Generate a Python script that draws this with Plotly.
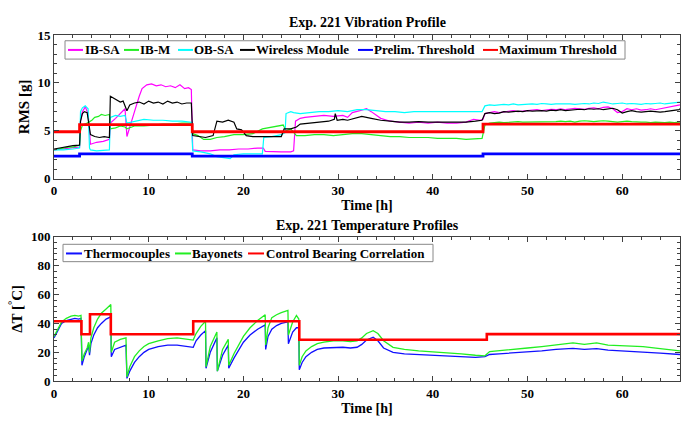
import plotly.graph_objects as go

# ---------------- data: vibration (top) ----------------
# shared dense time grid for the last segment (after the 45.3 h step)
tail_t = [45.5, 46.0, 46.5, 47.0, 47.5, 48.0, 48.5, 49.0, 49.5, 50.0, 50.5, 51.0, 51.5, 52.0, 52.5, 53.0, 53.5, 54.0,
          54.5, 55.0, 55.5, 56.0, 56.5, 57.0, 57.5, 58.0, 58.5, 59.0, 59.5, 60.0, 60.5, 61.0, 61.5, 62.0, 62.5, 63.0,
          63.5, 64.0, 64.5, 65.0, 65.5, 66.0, 66.1]

ibsa_t = [0, 1, 2, 2.7, 2.8, 3.0, 3.3, 3.6, 3.75, 3.85, 4.5, 5.2, 5.85, 5.95, 6.5, 7.0, 7.5, 7.7, 8.0, 8.5, 9.0, 9.3,
          9.8, 10.3, 10.8, 11.3, 11.8, 12.3, 12.8, 13.3, 13.8, 14.2, 14.5, 14.65, 15.5, 16.5, 17.5, 18.5, 19.5, 20.5,
          21.5, 22.1, 22.3, 23.0, 24.0, 25.0, 25.3, 25.5, 26.0, 26.5, 27.5, 28.5, 29.5, 30.5, 31.0, 31.5, 32.3, 33.0,
          33.5, 34.5, 35.5, 36.5, 37.5, 38.5, 39.5, 40.5, 41.5, 42.5, 43.5, 44.3, 45.0, 45.3]
ibsa_v = [3.0, 3.1, 3.2, 3.3, 6.0, 7.0, 7.5, 6.8, 5.0, 3.6, 3.8, 3.9, 4.1, 5.8, 6.3, 6.8, 7.3, 4.4, 5.3, 7.0, 8.6, 9.4,
          9.8, 9.9, 9.7, 9.8, 9.6, 9.7, 9.5, 9.8, 9.4, 9.5, 9.3, 3.0, 2.9, 2.9, 3.0, 3.0, 3.1, 3.1,
          3.2, 3.2, 2.85, 2.8, 2.8, 2.8, 2.9, 6.0, 6.3, 6.4, 6.5, 6.6, 6.5, 6.6, 6.4, 6.9, 7.1, 7.3,
          7.0, 6.3, 6.0, 5.9, 5.8, 5.9, 5.8, 5.9, 5.8, 5.8, 5.9, 6.2, 6.1, 6.2]
ibsa_tail = [6.8, 6.9, 7.0, 6.9, 6.95, 7.0, 7.1, 7.0, 7.05, 7.1, 7.1, 7.2, 7.1, 7.2, 7.25, 7.2, 7.3, 7.2, 7.3, 7.35,
             7.3, 7.25, 7.35, 7.4, 7.3, 7.45, 7.5, 7.3, 6.9, 7.0, 7.3, 7.2, 7.3, 7.15, 7.2, 7.3, 7.2, 7.3, 7.35, 7.5,
             7.6, 7.7, 7.7]

ibm_t = [0, 0.5, 1, 1.5, 2, 2.7, 2.8, 3.0, 3.5, 4.0, 4.3, 4.7, 5.0, 5.4, 5.85, 5.95, 6.5, 7.0, 7.5, 7.7, 8.5, 9.5,
         10.5, 11.5, 12.5, 13.5, 14.5, 14.65, 15.2, 15.8, 16.5, 17.2, 18.0, 19.0, 20.0, 21.0, 22.0, 22.5, 23.5,
         24.2, 24.5, 25.0, 25.6, 26.5, 27.5, 28.5, 29.5, 30.5, 31.5, 32.5, 33.5, 34.5, 35.5, 36.5, 37.5, 38.5,
         39.5, 40.5, 41.5, 42.5, 43.5, 44.5, 45.2]
ibm_v = [3.0, 3.1, 3.2, 3.3, 3.3, 3.5, 5.0, 5.6, 5.8, 6.1, 6.4, 6.5, 6.7, 6.6, 6.7, 5.2, 5.3, 5.5, 5.4, 5.2, 5.5, 5.5,
         5.6, 5.7, 5.7, 5.8, 5.8, 4.7, 4.5, 4.1, 4.1, 4.3, 4.4, 4.6, 4.6, 4.7, 5.2, 5.3, 5.5,
         5.6, 5.0, 5.2, 4.5, 4.5, 4.6, 4.6, 4.5, 4.6, 4.7, 4.7, 4.6, 4.5, 4.4, 4.4, 4.3, 4.3,
         4.3, 4.2, 4.2, 4.2, 4.1, 4.2, 4.2]
ibm_tail = [5.6, 5.8, 5.85, 5.9, 5.85, 5.9, 5.9, 5.95, 5.9, 5.9, 5.95, 5.9, 5.95, 5.9, 5.95, 5.95, 6.0, 5.95, 6.0,
            5.9, 6.0, 6.05, 6.0, 5.95, 6.0, 6.05, 6.0, 5.95, 5.9, 5.95, 6.0, 5.95, 5.9, 5.9, 5.9, 5.85, 5.9, 5.85,
            5.85, 5.9, 5.85, 5.9, 5.9]

obsa_t = [0, 1, 2, 2.7, 2.8, 3.0, 3.3, 3.6, 3.75, 3.85, 4.5, 5.2, 5.85, 5.95, 6.5, 7.0, 7.5, 7.7, 8.5, 9.0, 9.5,
          10.5, 11.5, 12.5, 13.5, 14.5, 14.65, 15.5, 16.5, 17.2, 18.0, 18.6, 19.0, 20.0, 21.0, 22.0, 22.15, 23.0,
          24.0, 24.4, 24.5, 25.0, 25.3, 26.0, 27.0, 28.0, 29.0, 30.0, 31.0, 32.0, 33.0, 34.0, 35.0, 36.0, 37.0,
          38.0, 39.0, 40.0, 41.0, 42.0, 43.0, 44.0, 45.2]
obsa_v = [3.0, 3.0, 3.1, 3.2, 7.0, 7.4, 7.6, 7.3, 3.2, 3.0, 2.9, 2.95, 3.0, 6.4, 6.6, 6.5, 6.6, 5.8, 6.0, 6.1, 6.2,
          6.1, 6.1, 6.0, 6.0, 5.9, 2.9, 2.8, 2.6, 2.3, 2.2, 2.1, 2.5, 2.6, 2.6, 2.6, 4.3, 4.4,
          4.6, 4.8, 6.8, 7.0, 6.9, 6.8, 6.9, 7.0, 7.0, 7.1, 7.0, 7.2, 7.2, 7.1, 7.0, 7.0, 6.9,
          7.0, 7.0, 6.95, 7.0, 7.0, 6.95, 7.0, 7.0]
obsa_tail = [7.6, 7.7, 7.65, 7.7, 7.75, 7.7, 7.8, 7.7, 7.75, 7.8, 7.8, 7.75, 7.85, 7.8, 7.75, 7.8, 7.8, 7.85, 7.8,
             7.75, 7.8, 7.85, 7.8, 7.9, 7.85, 8.0, 7.9, 7.8, 7.85, 7.9, 7.8, 7.85, 7.8, 7.75, 7.85, 7.8, 7.85, 7.9,
             7.8, 7.85, 7.9, 7.95, 8.0]

wm_t = [0, 0.5, 1, 1.5, 2.0, 2.7, 2.8, 3.0, 3.2, 3.5, 3.7, 3.85, 4.3, 4.8, 5.3, 5.85, 5.95, 6.3, 6.7, 7.0, 7.3, 7.7,
        8.0, 8.5, 9.0, 9.5, 10.0, 10.5, 11.0, 11.5, 12.0, 12.5, 13.0, 13.5, 14.0, 14.5, 14.65, 15.2, 16.0, 16.8,
        17.2, 17.8, 18.4, 19.0, 19.3, 19.8, 20.3, 21.0, 22.0, 23.0, 24.0, 24.3, 25.0, 25.6, 26.0, 27.0, 28.0,
        29.0, 29.6, 29.7, 29.9, 30.5, 31.0, 32.0, 32.5, 33.5, 34.5, 35.5, 36.5, 37.5, 38.5, 39.5, 40.5, 41.5,
        42.5, 43.5, 44.5, 45.2]
wm_v = [3.1, 3.2, 3.3, 3.4, 3.45, 3.5, 6.0, 6.8, 7.0, 6.9, 5.5, 4.6, 4.4, 4.3, 4.4, 4.3, 8.6, 8.4, 8.2, 8.0, 8.1, 7.1,
        7.7, 7.9, 8.0, 7.8, 8.1, 7.9, 8.0, 7.8, 8.1, 7.9, 8.0, 7.8, 7.9, 7.9, 4.5, 4.4, 4.3, 4.5,
        6.0, 5.9, 6.1, 5.9, 5.2, 5.1, 4.5, 4.4, 4.4, 4.4, 4.4, 5.2, 5.2, 5.4, 5.7, 5.8, 5.9,
        6.0, 6.2, 6.8, 6.1, 6.2, 6.1, 6.4, 6.5, 6.3, 6.1, 6.0, 5.9, 5.9, 5.95, 5.9, 5.9, 5.85,
        5.9, 5.9, 6.0, 6.1]
wm_tail = [6.8, 6.9, 6.8, 6.85, 7.0, 6.95, 7.0, 7.05, 7.0, 7.1, 7.05, 7.1, 7.1, 7.05, 7.15, 7.1, 7.2, 7.1, 7.15,
           7.2, 7.25, 7.2, 7.3, 7.25, 7.3, 7.2, 7.3, 7.35, 7.2, 6.85, 7.0, 7.1, 7.0, 6.95, 7.0, 7.05, 7.0, 6.95,
           7.0, 7.05, 7.1, 7.2, 7.3]

prelim_t = [0, 2.7, 14.6, 45.3, 66.1]
prelim_v = [2.35, 2.6, 2.35, 2.6, 2.6]
maxthr_t = [0, 2.7, 14.6, 45.3, 66.1]
maxthr_v = [4.9, 5.65, 4.9, 5.7, 5.7]

# ---------------- data: temperature (bottom) ----------------
bay_t = [0, 0.3, 0.8, 1.3, 1.8, 2.2, 2.6, 2.85, 2.95, 3.2, 3.5, 3.65, 3.75, 3.9, 4.2, 4.6, 5.0, 5.5, 6.0, 6.05, 6.4,
         7.0, 7.6, 7.7, 8.0, 8.5, 9.0, 9.5, 10.0, 11.0, 12.0, 13.0, 14.0, 14.7, 15.0, 15.5, 16.0, 16.05, 16.5,
         17.2, 17.25, 17.8, 18.4, 18.45, 19.0, 19.5, 20.0, 20.7, 21.5, 22.3, 22.35, 22.6, 23.0, 23.5, 24.0, 24.7,
         24.75, 25.2, 25.6, 25.85, 25.9, 26.2, 26.6, 27.2, 27.8, 28.5, 29.5, 30.5, 31.3, 32.0, 32.5, 33.0, 33.7,
         34.2, 34.8, 35.8, 37.0, 38.5, 40.0, 41.5, 43.0, 44.5, 45.5, 46.0, 47.0, 48.5, 50.0, 51.5, 53.0, 54.8,
         56.0, 57.3, 58.5, 60.0, 62.2, 64.0, 66.1]
bay_v = [31, 35, 41, 43.5, 45, 45.5, 45, 45.5, 14, 19, 23, 27, 20, 30, 37, 43, 47, 50, 53, 20, 27,
         29, 30, 3, 10, 17, 21, 24, 26, 28, 29.5, 30, 29, 28.5, 33, 38, 41.5, 10, 24,
         34, 7, 22, 29, 11, 19, 25, 31, 37, 42, 46, 25, 37, 44, 46, 47.5, 49,
         32, 41, 45.5, 43, 11, 17, 21, 24, 26, 27, 28, 28, 27.5, 28, 30, 33, 35,
         33, 28, 23.5, 22, 21, 20.5, 19.5, 19, 18, 17.6, 20.5, 21, 22, 23, 24, 25, 26.5,
         25.5, 26.5, 25, 24.5, 24, 22.5, 21]

tc_t = bay_t
tc_v = [30, 34, 40, 42, 43, 43.5, 43, 43.5, 11, 17, 22, 25, 18, 26, 32, 37, 40, 43, 44.5, 17, 22,
        23.5, 25, 2, 7, 13, 17, 20, 22, 24, 25, 25, 24, 23.5, 28, 32, 35, 9, 20,
        30, 7, 18, 25, 9, 16, 22, 27, 32, 36, 39, 22, 31, 36, 38.5, 40, 41,
        26, 34, 37, 37, 8, 13, 17, 20, 22, 23, 23.5, 23.5, 23, 23.5, 25.5, 28.5, 30.5,
        28, 23, 20, 19, 18.5, 18, 17, 16.5, 16.5, 17, 18.5, 19, 19.5, 20, 21, 22, 22.7,
        22, 22.5, 21.5, 21, 20.4, 19.5, 18.5]

cbc_t = [0, 2.9, 3.8, 6.0, 14.7, 25.9, 45.7, 66.1]
cbc_v = [41.5, 32.5, 46.3, 32.5, 41.5, 28.7, 32.6, 32.6]

# ---------------- figure ----------------
W, H = 683, 424
L, R = 54, 3
def px(x):
    return (x - L) / (W - L - R)
def py(y):
    return (H - y) / H

FONT = "Liberation Serif, Times New Roman, serif"
fig = go.Figure()

def add(t, v, color, width, xa, ya, shape="linear"):
    fig.add_trace(go.Scatter(x=t, y=v, mode="lines", line=dict(color=color, width=width, shape=shape),
                             xaxis=xa, yaxis=ya, showlegend=False, hoverinfo="skip"))

add(ibsa_t + tail_t, ibsa_v + ibsa_tail, "#FF00FF", 1.2, "x", "y")
add(ibm_t + tail_t, ibm_v + ibm_tail, "#22EE22", 1.2, "x", "y")
add(obsa_t + tail_t, obsa_v + obsa_tail, "#00FFFF", 1.2, "x", "y")
add(wm_t + tail_t, wm_v + wm_tail, "#000000", 1.2, "x", "y")
add(prelim_t, prelim_v, "#0000FF", 2.8, "x", "y", "hv")
add(maxthr_t, maxthr_v, "#FF0000", 2.8, "x", "y", "hv")

add(tc_t, tc_v, "#1010FF", 1.3, "x2", "y2")
add(bay_t, bay_v, "#22EE22", 1.3, "x2", "y2")
add(cbc_t, cbc_v, "#FF0000", 2.6, "x2", "y2", "hv")

axcol = "#404040"
def xax(anchor):
    return dict(range=[0, 66.1], domain=[0, 1], anchor=anchor, tickmode="array",
                tickvals=[0, 10, 20, 30, 40, 50, 60], ticks="inside", ticklen=5, tickcolor=axcol,
                minor=dict(ticks="inside", dtick=2, ticklen=3, tickcolor=axcol),
                showline=True, linecolor=axcol, linewidth=1, mirror="allticks", showgrid=False,
                zeroline=False, tickfont=dict(size=13, family=FONT, weight="bold"),
                title=dict(text="Time [h]", standoff=2, font=dict(size=14, family=FONT, weight="bold")))

def yax(anchor, rng, dtick, mdt, dom, title):
    return dict(range=rng, domain=dom, anchor=anchor, dtick=dtick, ticks="inside", ticklen=5, tickcolor=axcol,
                minor=dict(ticks="inside", dtick=mdt, ticklen=3, tickcolor=axcol),
                showline=True, linecolor=axcol, linewidth=1, mirror="allticks", showgrid=False,
                zeroline=False, tickfont=dict(size=13, family=FONT, weight="bold"),
                title=dict(text=title, standoff=4, font=dict(size=15, family=FONT, weight="bold")))

shapes = []
annotations = []

def legend_box(x0, x1, y0, y1):
    shapes.append(dict(type="rect", xref="paper", yref="paper", x0=px(x0), x1=px(x1), y0=py(y1), y1=py(y0),
                       line=dict(color="#888888", width=1), fillcolor="white", layer="above"))

def legend_item(lx0, lx1, y, color, text, tx):
    shapes.append(dict(type="line", xref="paper", yref="paper", x0=px(lx0), x1=px(lx1), y0=py(y), y1=py(y),
                       line=dict(color=color, width=2), layer="above"))
    annotations.append(dict(text=text, xref="paper", yref="paper", x=px(tx), y=py(y), xanchor="left",
                            yanchor="middle", showarrow=False, borderpad=0,
                            font=dict(size=13, family=FONT, weight="bold", color="black")))

legend_box(65, 625, 35, 54)
ly = 44.5
legend_item(68, 83, ly, "#FF00FF", "IB-SA", 84)
legend_item(124, 139, ly, "#22EE22", "IB-M", 139)
legend_item(178, 193, ly, "#00FFFF", "OB-SA", 193)
legend_item(240, 255, ly, "#000000", "Wireless Module", 255)
legend_item(358, 373, ly, "#0000FF", "Prelim. Threshold", 373)
legend_item(483, 498, ly, "#FF0000", "Maximum Threshold", 498)

legend_box(63, 433, 246, 264)
ly2 = 255.5
legend_item(66, 82, ly2, "#1010FF", "Thermocouples", 83)
legend_item(175, 191, ly2, "#22EE22", "Bayonets", 191)
legend_item(248, 264, ly2, "#FF0000", "Control Bearing Correlation", 265)

annotations.append(dict(text="Exp. 221 Vibration Profile", xref="paper", yref="paper", x=px(367), y=py(16),
                        xanchor="center", yanchor="middle", showarrow=False,
                        font=dict(size=14, family=FONT, weight="bold", color="black")))
annotations.append(dict(text="Exp. 221 Temperature Profiles", xref="paper", yref="paper", x=px(367), y=py(226),
                        xanchor="center", yanchor="middle", showarrow=False,
                        font=dict(size=14, family=FONT, weight="bold", color="black")))

fig.update_layout(
    width=W, height=H, margin=dict(l=L, r=R, t=0, b=0),
    paper_bgcolor="white", plot_bgcolor="white",
    font=dict(family=FONT, weight="bold", color="black"),
    xaxis=xax("y"), yaxis=yax("x", [0, 15], 5, 1, [py(178), py(29)], "RMS [g]"),
    xaxis2=xax("y2"), yaxis2=yax("x2", [0, 100], 20, 4, [py(388), py(238)], "ΔT [<sup>°</sup>C]"),
    shapes=shapes, annotations=annotations, showlegend=False,
)

fig.write_html("out.html")
